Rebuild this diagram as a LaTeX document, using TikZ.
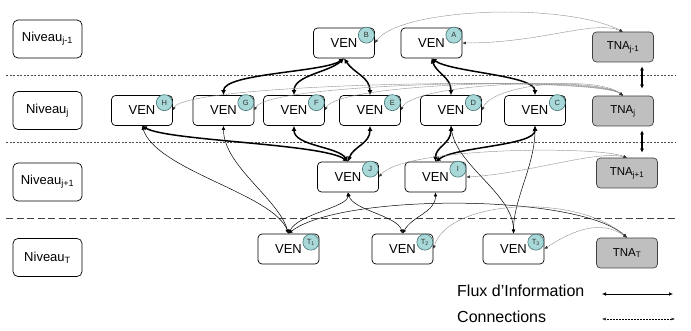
\documentclass[tikz,border=0pt]{standalone}
\usepackage{fontspec}
\setmainfont{Liberation Sans}
\usepackage{tikz}
\usetikzlibrary{calc,arrows.meta}
\definecolor{badgefill}{HTML}{A8D8D8}
\definecolor{badgeline}{HTML}{3F6F70}

\begin{document}
\begin{tikzpicture}[x=1pt,y=1pt,
  niveau/.style={draw, rounded corners=5pt, line width=0.7pt, minimum width=69pt, minimum height=38pt, inner sep=0pt, font=\fontsize{13}{15}\selectfont},
  ven/.style={draw, rounded corners=4pt, line width=0.7pt, minimum width=61pt, minimum height=30pt, inner sep=0pt, font=\fontsize{13}{15}\selectfont},
  tna/.style={ven, fill=gray!50, draw=black!75, font=\fontsize{11.5}{14}\selectfont},
  badge/.style={circle, draw=badgeline, fill=badgefill, line width=0.6pt, minimum size=16pt, inner sep=0pt, font=\fontsize{7.5}{8}\selectfont, text=black!80},
  strong/.style={line width=1.5pt, {Latex[length=5pt,width=5pt]}-{Latex[length=5pt,width=5pt]}},
  flux/.style={line width=0.5pt, {Latex[length=4pt,width=3.5pt]}-{Latex[length=4pt,width=3.5pt]}},
  conn/.style={gray!90, line width=0.5pt, dash pattern=on 1.2pt off 0.5pt, {Latex[length=3.5pt,width=3pt,color=black!80]}-{Latex[length=3.5pt,width=3pt,color=black!80]}},
  tnaflux/.style={line width=1.2pt, {Latex[length=4pt,width=4pt]}-{Latex[length=4pt,width=4pt]}},
  sep/.style={black!70, line width=0.8pt, dash pattern=on 2pt off 1.5pt},
  sepT/.style={black!75, line width=0.8pt, dash pattern=on 7pt off 3.5pt},
  legend/.style={inner sep=0pt, font=\fontsize{16}{19}\selectfont}]
  \useasboundingbox (0,0) rectangle (691,-331);

  \draw[sep] (6,-75) -- (676,-75);
  \draw[sep] (6,-142) -- (676,-142);
  \draw[sepT] (6,-218) -- (676,-218);

  \node[niveau] (nivJm) at (47.5,-39) {Niveau\textsubscript{j-1}};
  \node[niveau] (nivJ) at (47.5,-110.5) {Niveau\textsubscript{j}};
  \node[niveau] (nivJp) at (47.5,-182) {Niveau\textsubscript{j+1}};
  \node[niveau] (nivT) at (47.5,-257.5) {Niveau\textsubscript{T}};

  \node[tna] (tnaA) at (623,-47) {TNA\textsubscript{j-1}};
  \node[tna] (tnaJ) at (623,-111) {TNA\textsubscript{j}};
  \node[tna] (tnaC) at (627,-173) {TNA\textsubscript{j+1}};
  \node[tna] (tnaT) at (627,-253) {TNA\textsubscript{T}};

  \node[ven] (venB) at (344,-43) {VEN};
  \node[ven] (venA) at (431.5,-43) {VEN};
  \node[ven] (venH) at (142,-110.5) {VEN};
  \node[ven] (venG) at (223.5,-110.5) {VEN};
  \node[ven] (venF) at (294,-110.5) {VEN};
  \node[ven] (venE) at (370,-110.5) {VEN};
  \node[ven] (venD) at (451,-110.5) {VEN};
  \node[ven] (venC) at (535,-110.5) {VEN};
  \node[ven] (venJ) at (348,-177) {VEN};
  \node[ven] (venI) at (435.5,-177) {VEN};
  \node[ven] (venTa) at (288.5,-249) {VEN};
  \node[ven] (venTb) at (402.5,-249) {VEN};
  \node[ven] (venTc) at (513.5,-249) {VEN};

  \foreach \v/\l in {venB/B,venA/A,venH/H,venG/G,venF/F,venE/E,venD/D,venC/C,venJ/J,venI/I}
    \node[badge] (b\l) at ($(\v.north east)+(-8.5,-7.5)$) {\l};
  \foreach \v/\l in {venTa/1,venTb/2,venTc/3}
    \node[badge] (bT\l) at ($(\v.north east)+(-8.5,-8.5)$) {T\textsubscript{\l}};

  \draw[strong] (venB.south) .. controls +(-20,-14) and +(0,22) .. (venG.north);
  \draw[strong] (venB.south) .. controls +(-15,-14) and +(0,20) .. (venF.north);
  \draw[strong] (venB.south) .. controls +(10,-15) and +(0,18) .. (venE.north);
  \draw[strong] (venA.south) .. controls +(5,-15) and +(0,18) .. (venD.north);
  \draw[strong] (venA.south) .. controls +(20,-14) and +(0,20) .. (venC.north);
  \draw[strong] (venJ.north) .. controls +(-25,18) and +(25,-15) .. (venH.south);
  \draw[strong] (venJ.north) .. controls +(-10,15) and +(0,-20) .. (venF.south);
  \draw[strong] (venJ.north) .. controls +(5,15) and +(0,-18) .. (venE.south);
  \draw[strong] (venI.north) .. controls +(0,15) and +(0,-18) .. (venD.south);
  \draw[strong] (venI.north) .. controls +(20,15) and +(0,-20) .. (venC.south);

  \draw[flux] (venH.south) .. controls +(15,-45) and +(-15,40) .. (venTa.north);
  \draw[flux] (venG.south) .. controls +(0,-40) and +(-10,35) .. (venTa.north);
  \draw[flux] (venTa.north) .. controls +(10,20) and +(0,-15) .. (venJ.south);
  \draw[flux] (venJ.south) .. controls +(5,-18) and +(-5,18) .. (venTb.north);
  \draw[flux] (venI.south) .. controls +(0,-20) and +(10,18) .. (venTb.north);
  \draw[flux] (venTa.north) .. controls +(50,40) and +(-50,45) .. (tnaT.north);
  \draw[flux] (venD.south) .. controls +(5,-40) and +(0,40) .. (venTc.north);
  \draw[flux] (venC.south) .. controls +(0,-40) and +(0,35) .. (venTc.north);

  \draw[conn] (tnaA.north) .. controls +(-30,12) and +(80,0) .. (venA.east);
  \draw[conn] (tnaA.north) .. controls +(-60,30) and +(25,35) .. (venB.east);
  \foreach \v in {venH,venG,venF,venE,venD}
    \draw[conn] (tnaJ.north) .. controls +(-25,20) and +(12,28) .. (\v.east);
  \draw[conn] (tnaC.north) .. controls +(-30,12) and +(25,30) .. (venJ.east);
  \draw[conn] (tnaC.north) .. controls +(-30,8) and +(60,3) .. (venI.east);
  \draw[conn] (tnaT.north) .. controls +(-50,45) and +(15,50) .. (venTb.east);
  \draw[conn] (tnaT.north) .. controls +(-25,18) and +(30,20) .. (venTc.east);

  \draw[tnaflux] ([xshift=19pt,yshift=-4pt]tnaA.south) -- ([xshift=19pt,yshift=7pt]tnaJ.north);
  \draw[tnaflux] ([xshift=19pt,yshift=-4pt]tnaJ.south) -- ([xshift=19pt,yshift=5pt]tnaJ.south |- tnaC.north);

  \node[legend, anchor=base west] (lgFlux) at (457,-297) {Flux d’Information};
  \node[legend, anchor=base west] (lgConn) at (457,-322) {Connections};
  \coordinate (fluxL) at (602,-294);
  \coordinate (fluxR) at (673,-294);
  \coordinate (connL) at (602,-319);
  \coordinate (connR) at (675,-319);
  \draw[flux] (fluxL) -- (fluxR);
  \draw[conn, black, densely dotted] (connL) -- (connR);
\end{tikzpicture}
\end{document}
